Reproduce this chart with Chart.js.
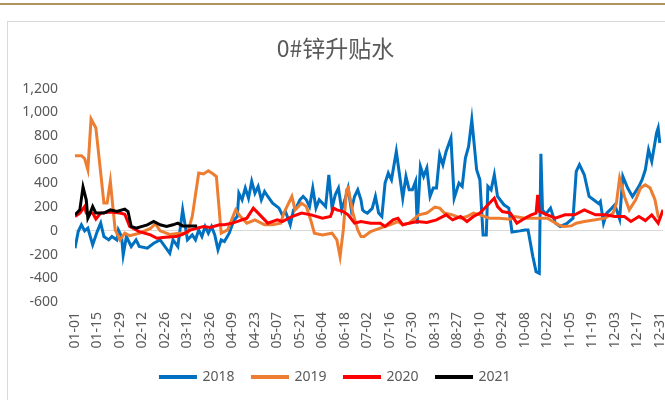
<!DOCTYPE html>
<html>
<head>
<meta charset="utf-8">
<script src="https://cdn.jsdelivr.net/npm/chart.js@4/dist/chart.umd.min.js"></script>
<style>
  html, body { margin: 0; padding: 0; background: #ffffff; width: 665px; height: 400px; overflow: hidden; }
  #gold { position: absolute; left: 0; top: 3px; width: 665px; height: 2px; background: #ad9461; }
  #frame { position: absolute; left: 7px; top: 21px; width: 680px; height: 390px; border: 1px solid #d9d9d9; background: #fff; }
  #wrap { position: absolute; left: 8px; top: 22px; width: 680px; height: 378px; }
</style>
</head>
<body>
<div id="gold"></div>
<div id="frame"></div>
<div id="wrap"><canvas id="c" width="680" height="378"></canvas></div>
<script>
const chartTitle = '0#锌升贴水';
const seriesNames = ['2018', '2019', '2020', '2021'];
const seriesColors = ['#0070c0', '#ed7d31', '#ff0000', '#000000'];
const tickLabels = ['01-01','01-15','01-29','02-12','02-26','03-12','03-26','04-09','04-23','05-07','05-21','06-04','06-18',
  '07-02','07-16','07-30','08-13','08-27','09-10','09-24','10-08','10-22','11-05','11-19','12-03','12-17','12-31'];

// day-of-year positions and values
const days2018 = [0,2,4,6,8,11,14,16,18,21,23,26,27,29,30,32,35,38,40,45,49,53,56,59,61,64,67,70,73,75,77,79,81,83,85,87,89,91,93,96,99,101,102,104,106,108,110,112,114,116,118,120,123,127,129,131,134,136,138,140,142,144,146,148,150,152,156,158,160,162,164,166,168,170,172,174,176,178,179,180,182,185,187,189,191,193,195,197,200,202,204,206,208,210,212,213,215,217,219,221,223,225,227,229,231,234,236,239,241,243,245,247,250,252,254,256,257,259,261,263,267,270,272,277,280,282,285,287,289,290,291,293,296,299,302,306,310,312,314,317,320,323,326,327,329,331,334,336,339,341,344,347,351,353,355,357,359,362,363,364];
const vals2018 = [-146,-6,51,0,23,-118,0,65,-48,-76,-48,-76,8,-48,-203,-48,-132,-76,-132,-146,-104,-76,-132,-189,-76,-132,177,-76,-34,-76,8,-48,37,-20,37,-34,-160,-76,-90,-20,93,121,318,262,361,276,417,318,375,262,332,290,234,192,135,163,51,177,205,262,290,262,205,361,192,262,205,473,192,304,361,177,262,361,177,290,346,262,177,163,150,190,290,150,121,403,488,431,670,473,276,459,346,346,417,60,543,459,530,290,361,361,642,558,670,783,276,403,375,614,712,938,515,431,-34,-34,375,346,473,290,220,192,-10,0,8,8,-217,-344,-358,650,177,140,192,65,37,60,107,501,558,473,290,260,230,248,65,150,190,220,100,459,361,290,375,431,515,684,586,826,868,741];

const days2019 = [0,4,6,8,10,13,18,20,22,25,28,31,34,40,47,50,53,59,65,70,73,77,80,83,86,88,91,95,100,103,107,112,118,123,128,130,135,137,141,144,147,149,154,160,163,165,167,169,170,173,176,178,180,184,190,196,201,204,208,214,219,224,227,230,235,240,244,248,252,258,264,271,274,280,288,294,301,304,309,312,317,324,330,335,337,339,342,345,349,352,355,358,361,363,365];
const vals2019 = [634,634,610,515,944,868,234,234,417,8,-76,-20,-40,-20,20,60,0,-30,-20,-17,121,488,480,507,480,459,-20,8,177,121,65,93,51,51,65,150,290,177,234,205,79,-20,-34,-20,-76,-217,8,346,361,150,8,-48,-48,-6,23,51,79,51,65,135,150,200,192,150,135,107,121,150,135,107,107,99,121,107,107,107,51,37,42,65,79,93,107,150,234,445,290,177,262,361,389,361,262,121,107];

const days2020 = [0,3,6,7,11,13,16,22,28,31,34,40,47,51,56,63,67,72,80,84,90,93,98,107,111,114,120,126,129,135,141,147,154,159,161,163,167,170,174,178,184,190,193,198,201,204,208,213,219,225,231,235,240,244,248,252,256,260,261,263,266,271,275,280,284,287,288,289,294,299,305,311,317,324,330,336,342,346,351,355,359,363,366];
const vals2020 = [121,150,205,150,150,100,150,160,150,140,37,-6,-34,-62,-54,-48,-30,8,37,28,51,51,65,107,192,150,65,93,79,121,150,135,107,121,192,177,163,135,65,79,65,65,37,93,107,51,65,79,70,93,135,93,121,79,121,150,205,262,276,205,163,150,65,107,135,150,304,163,135,107,135,135,177,135,135,121,121,79,121,87,135,65,177];

const days2021 = [0,3,5,7,8,9,11,13,18,22,26,31,33,35,38,45,49,53,57,61,64,67,72,76];
const vals2021 = [135,177,369,262,107,135,205,150,150,177,163,183,163,37,23,51,79,51,37,51,65,42,42,42];

const dayLists = [days2018, days2019, days2020, days2021];
const valLists = [vals2018, vals2019, vals2020, vals2021];

const FONT = "'Noto Sans', 'DejaVu Sans', sans-serif";
const TXT = '#595959';

const datasets = seriesNames.map((name, i) => ({
  label: name,
  data: dayLists[i].map((d, k) => ({ x: d, y: valLists[i][k] })),
  borderColor: seriesColors[i],
  backgroundColor: seriesColors[i],
  borderWidth: 3,
  pointRadius: 0,
  tension: 0,
  order: 3 - i
}));

new Chart(document.getElementById('c'), {
  type: 'line',
  data: { datasets },
  options: {
    responsive: false,
    animation: false,
    events: [],
    layout: { padding: { left: 0, right: 25, top: 0, bottom: 6 } },
    plugins: {
      tooltip: { enabled: false },
      title: {
        display: true,
        text: chartTitle,
        color: TXT,
        font: { family: "'Noto Sans CJK SC', sans-serif", size: 23, weight: 'normal' },
        padding: { top: 12, bottom: 27 }
      },
      legend: {
        position: 'bottom',
        reverse: true,
        labels: {
          color: TXT,
          font: { family: FONT, size: 14 },
          boxWidth: 35,
          boxHeight: 1,
          padding: 18
        }
      }
    },
    scales: {
      x: {
        type: 'linear',
        min: 0,
        max: 366,
        grid: { display: false, drawTicks: false },
        border: { display: false },
        afterFit: (s) => { s.height = 50; },
        ticks: {
          stepSize: 14,
          includeBounds: false,
          autoSkip: false,
          maxRotation: 90,
          minRotation: 90,
          padding: 10,
          color: TXT,
          font: { family: FONT, size: 14 },
          callback: (v) => tickLabels[Math.round(v / 14)] ?? ''
        }
      },
      y: {
        min: -600,
        max: 1200,
        afterFit: (s) => { s.width = 67; },
        grid: {
          drawTicks: false,
          color: (ctx) => (ctx.tick && ctx.tick.value === 0 ? '#d9d9d9' : 'rgba(0,0,0,0)'),
          lineWidth: 1
        },
        border: { display: false },
        ticks: {
          stepSize: 200,
          padding: 17,
          color: TXT,
          font: { family: FONT, size: 14 },
          callback: (v) => v.toLocaleString('en-US')
        }
      }
    }
  }
});
</script>
</body>
</html>
